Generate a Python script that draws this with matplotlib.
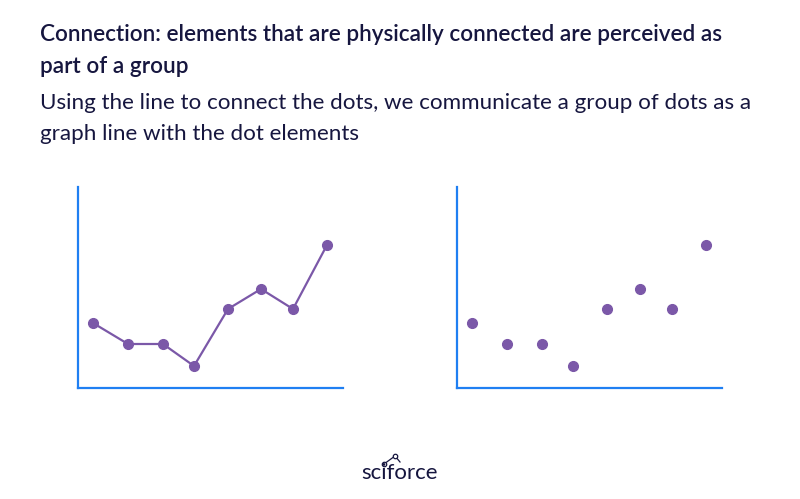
import matplotlib.pyplot as plt

W, H = 800, 499

title = "Connection: elements that are physically connected are perceived as\npart of a group"
subtitle = "Using the line to connect the dots, we communicate a group of dots as a\ngraph line with the dot elements"

# dot positions (same series in both panels)
x_vals = [15, 50, 85, 116, 150, 183, 215, 249]
y_vals = [65, 44, 44, 22, 79, 99, 79, 143]

AXIS_BLUE = '#1f7ff2'
DOT_PURPLE = '#7b58a8'
TEXT_DARK = '#16163f'


def style_axes(ax):
    for side in ['top', 'right']:
        ax.spines[side].set_visible(False)
    for side in ['left', 'bottom']:
        ax.spines[side].set_color(AXIS_BLUE)
        ax.spines[side].set_linewidth(1.6)
    ax.set_xticks([])
    ax.set_yticks([])
    ax.set_xlim(0, 265)
    ax.set_ylim(0, 201)
    ax.patch.set_alpha(0)


fig = plt.figure(figsize=(W / 100, H / 100), dpi=100)

# title and subtitle, one line at a time so baselines match
for i, line in enumerate(title.split('\n')):
    fig.text(40 / W, 1 - (41 + 32 * i) / H, line, fontsize=16.2,
             fontweight='semibold', family='Lato', color=TEXT_DARK,
             va='baseline', ha='left')
for i, line in enumerate(subtitle.split('\n')):
    fig.text(40 / W, 1 - (109 + 31 * i) / H, line, fontsize=16.1,
             family='Lato', color=TEXT_DARK, va='baseline', ha='left')

ax1 = fig.add_axes([78 / W, 1 - 388 / H, 265 / W, 201 / H])
style_axes(ax1)
ax1.plot(x_vals, y_vals, color=DOT_PURPLE, linewidth=1.6, marker='o',
         markersize=7, clip_on=False)

ax2 = fig.add_axes([457 / W, 1 - 388 / H, 265 / W, 201 / H])
style_axes(ax2)
ax2.plot(x_vals, y_vals, linestyle='none', color=DOT_PURPLE, marker='o',
         markersize=7, clip_on=False)

# footer logo
fig.text(400 / W, 1 - 479 / H, "sciforce", fontsize=16, family='Lato',
         color=TEXT_DARK, ha='center', va='baseline')
logo_x = [384 / W, 395 / W, 400 / W]
logo_y = [1 - 464 / H, 1 - 456 / H, 1 - 462 / H]
fig.add_artist(plt.Line2D(logo_x, logo_y, color=TEXT_DARK, linewidth=0.9))
fig.add_artist(plt.Line2D(logo_x[:2], logo_y[:2], linestyle='none',
                          marker='o', markersize=3.2, color=TEXT_DARK,
                          markerfacecolor='white', markeredgewidth=0.9))

fig.savefig('out.png', dpi=100)
